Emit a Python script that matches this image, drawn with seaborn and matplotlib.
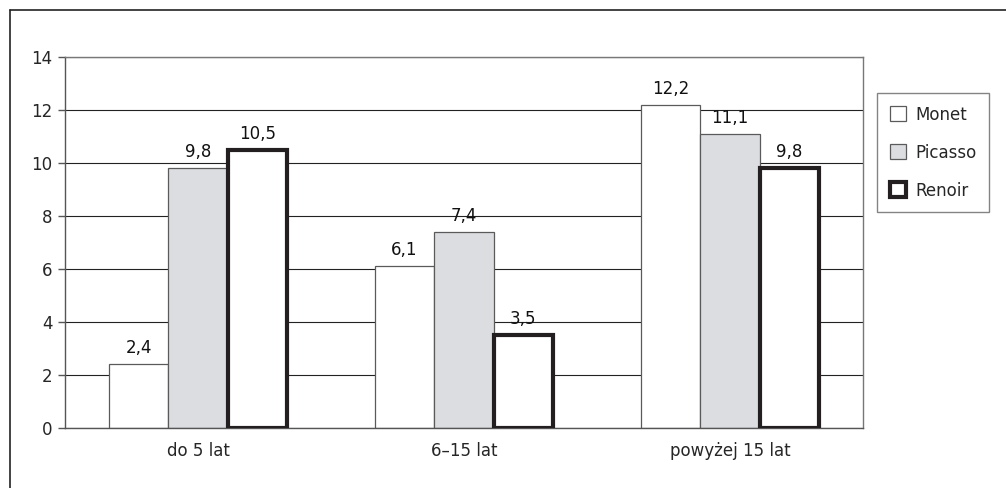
import matplotlib
matplotlib.use("Agg")
import matplotlib.pyplot as plt
from matplotlib.patches import Patch
from matplotlib.lines import Line2D
import seaborn as sns
import pandas as pd

# Data
categories = ["do 5 lat", "6–15 lat", "powyżej 15 lat"]
artists = ["Monet", "Picasso", "Renoir"]
monet = [2.4, 6.1, 12.2]
picasso = [9.8, 7.4, 11.1]
renoir = [10.5, 3.5, 9.8]
y_ticks = [0, 2, 4, 6, 8, 10, 12, 14]

df = pd.DataFrame({
    "grupa": categories * 3,
    "artysta": [a for a in artists for _ in categories],
    "wartosc": monet + picasso + renoir,
})

sns.set_style("white")
plt.rcParams["font.family"] = ["DejaVu Sans"]
plt.rcParams["font.size"] = 12

fills = {"Monet": "#ffffff", "Picasso": "#dcdde0", "Renoir": "#ffffff"}
thin_edge = "#5a5a5a"
thick_edge = "#231f20"

fig = plt.figure(figsize=(10.06, 4.88), dpi=100)
ax = fig.add_axes([65 / 1006, 60 / 488, 798 / 1006, 371 / 488])

sns.barplot(data=df, x="grupa", y="wartosc", hue="artysta", order=categories,
            hue_order=artists, palette=fills, width=0.67, gap=0,
            edgecolor=thin_edge, linewidth=0.9, saturation=1,
            legend=False, ax=ax)

# Heavy outline for the Renoir series
for bar in ax.containers[2]:
    bar.set_edgecolor(thick_edge)
    bar.set_linewidth(3.0)
    bar.set_zorder(3)

# Value labels with decimal commas
series_vals = [monet, picasso, renoir]
for cont, vals in zip(ax.containers, series_vals):
    ax.bar_label(cont, labels=[f"{v:.1f}".replace(".", ",") for v in vals],
                 padding=5, fontsize=12, color="#111111")

ax.set_ylim(0, 14)
ax.set_xlim(-0.5, len(categories) - 0.5)
ax.set_yticks(y_ticks)
ax.set_xlabel("")
ax.set_ylabel("")
ax.yaxis.grid(True, color="#222222", linewidth=0.8)
ax.set_axisbelow(True)

# Category ticks sit between groups
ax.set_xticks(range(len(categories)))
ax.set_xticklabels(categories)
ax.set_xticks([i - 0.5 for i in range(len(categories) + 1)], minor=True)
ax.tick_params(axis="x", which="major", length=0, pad=10, labelsize=12)
ax.tick_params(axis="x", which="minor", length=4, width=1, color="#555555", direction="out")
ax.tick_params(axis="y", which="major", length=5, width=1, color="#555555", pad=4,
               direction="out", labelsize=12, left=True)

for side in ["left", "bottom"]:
    ax.spines[side].set_color("#555555")
    ax.spines[side].set_linewidth(1.0)
for side in ["top", "right"]:
    ax.spines[side].set_visible(True)
    ax.spines[side].set_color("#777777")
    ax.spines[side].set_linewidth(1.0)

# Legend
handles = [
    Patch(facecolor=fills["Monet"], edgecolor=thin_edge, linewidth=0.9),
    Patch(facecolor=fills["Picasso"], edgecolor=thin_edge, linewidth=0.9),
    Patch(facecolor=fills["Renoir"], edgecolor=thick_edge, linewidth=3.0),
]
leg = fig.legend(handles, artists, loc="upper left",
                 bbox_to_anchor=(877 / 1006, 1 - 93 / 488),
                 frameon=True, fancybox=False, edgecolor="#666666",
                 fontsize=12, handlelength=1.0, handleheight=1.0,
                 handletextpad=0.55, labelspacing=1.2, borderpad=0.75,
                 borderaxespad=0)
leg.get_frame().set_linewidth(1.0)

# Outer frame lines along the top and left edges
fig.add_artist(Line2D([10 / 1006, 1.0], [1 - 10 / 488, 1 - 10 / 488],
                      transform=fig.transFigure, color="#222222", linewidth=1.2))
fig.add_artist(Line2D([10 / 1006, 10 / 1006], [0.0, 1 - 10 / 488],
                      transform=fig.transFigure, color="#222222", linewidth=1.2))

fig.savefig("out.png", dpi=100)
